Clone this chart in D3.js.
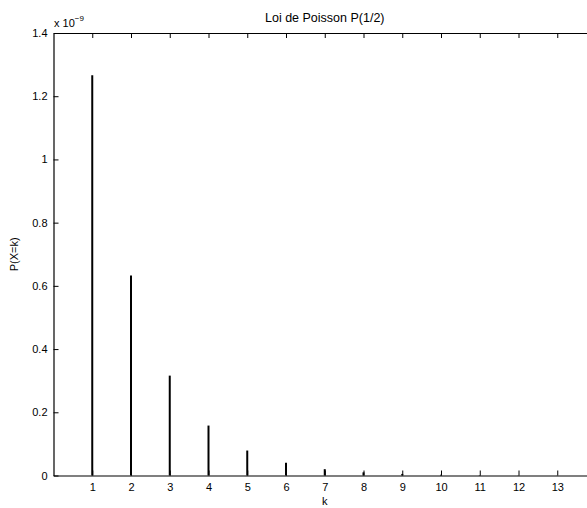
<!DOCTYPE html>
<html>
<head>
<meta charset="utf-8">
<script src="https://cdn.jsdelivr.net/npm/d3@7"></script>
<style>
  body { margin: 0; background: #fff; }
  svg { display: block; font-family: "Liberation Sans", Arial, sans-serif; }
</style>
</head>
<body>
<div id="chart"></div>
<script>
// values are in units of 1e-9
var ks = [1, 2, 3, 4, 5, 6, 7, 8, 9, 10, 11, 12, 13];
var probs = [1.266, 0.633, 0.316, 0.158, 0.079, 0.040, 0.020, 0.010, 0.005, 0.0025, 0.0012, 0.0006, 0.0003];
var xTicks = [1, 2, 3, 4, 5, 6, 7, 8, 9, 10, 11, 12, 13];
var yTicks = [0, 0.2, 0.4, 0.6, 0.8, 1, 1.2, 1.4];

var width = 587, height = 508;
var plotLeft = 53.5, plotTop = 33, plotBottom = 475.5, plotRight = 596;

var svg = d3.select("#chart").append("svg")
  .attr("width", width)
  .attr("height", height);

var x = d3.scaleLinear().domain([0, 14]).range([plotLeft, plotRight]);
var y = d3.scaleLinear().domain([0, 1.4]).range([plotBottom, plotTop]);

// stems
svg.selectAll(".stem")
  .data(ks)
  .enter().append("line")
  .attr("class", "stem")
  .attr("x1", d => x(d))
  .attr("x2", d => x(d))
  .attr("y1", y(0))
  .attr("y2", (d, i) => y(probs[i]))
  .attr("stroke", "#000")
  .attr("stroke-width", 2);

// axes
var xAxis = svg.append("g")
  .attr("transform", "translate(0," + plotBottom + ")")
  .call(d3.axisBottom(x).tickValues(xTicks).tickSizeInner(-5).tickSizeOuter(0).tickPadding(8));
var yAxis = svg.append("g")
  .attr("transform", "translate(" + plotLeft + ",0)")
  .call(d3.axisLeft(y).tickValues(yTicks).tickSizeInner(-5).tickSizeOuter(0).tickPadding(6)
    .tickFormat(d => d3.format("")(d)));
var xTop = svg.append("g")
  .attr("transform", "translate(0," + plotTop + ")")
  .call(d3.axisTop(x).tickValues(xTicks).tickSizeInner(-5).tickSizeOuter(0).tickFormat(""));

[xAxis, yAxis, xTop].forEach(function(g) {
  g.select(".domain").attr("stroke", "#000").attr("stroke-width", 1.2);
  g.selectAll(".tick line").attr("stroke", "#000");
  g.selectAll(".tick text").attr("fill", "#000").attr("font-size", "11px")
    .attr("font-family", "'Liberation Sans', Arial, sans-serif");
});

// exponent label
var ex = svg.append("text")
  .attr("x", 54)
  .attr("y", 27)
  .attr("font-size", "11px")
  .attr("fill", "#000");
ex.append("tspan").text("x 10");
ex.append("tspan").attr("dy", -6).attr("font-size", "8px").text("−9");

// title
svg.append("text")
  .attr("x", (plotLeft + plotRight) / 2)
  .attr("y", 22)
  .attr("text-anchor", "middle")
  .attr("font-size", "12.5px")
  .text("Loi de Poisson P(1/2)");

// x label
svg.append("text")
  .attr("x", (plotLeft + plotRight) / 2)
  .attr("y", 505)
  .attr("text-anchor", "middle")
  .attr("font-size", "11px")
  .text("k");

// y label
svg.append("text")
  .attr("transform", "translate(18," + ((plotTop + plotBottom) / 2) + ") rotate(-90)")
  .attr("text-anchor", "middle")
  .attr("font-size", "11px")
  .text("P(X=k)");
</script>
</body>
</html>
